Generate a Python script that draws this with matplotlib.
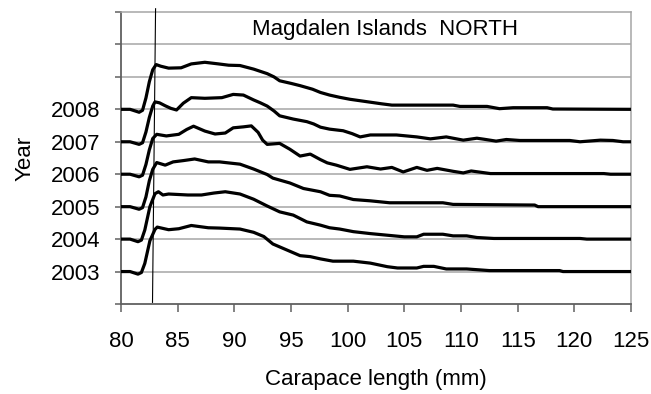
import numpy as np
import matplotlib
matplotlib.use('Agg')
import matplotlib.pyplot as plt

plt.rcParams['font.family'] = ['Liberation Sans', 'DejaVu Sans']

# year levels and the offset curve of each year
years = [2003, 2004, 2005, 2006, 2007, 2008]
ytick_labels = ['', '2003', '2004', '2005', '2006', '2007', '2008', '', '', '']

x2008 = [80, 80.8, 81.6, 81.9, 82.2, 82.5, 82.8, 83.1, 83.5, 84.2,
         85.3, 86.2, 87.4, 88.6, 89.5, 90.5, 91.7, 92.9, 93.5, 94.0,
         95.0, 95.8, 96.9, 97.6, 98.4, 99.3, 100.2, 101.2, 102.0, 103.0,
         103.9, 106.4, 109.3, 109.9, 111.7, 112.3, 113.4, 114.6, 117.6, 118.1, 125]
y2008 = [0, 0, -0.09, -0.03, 0.35, 0.85, 1.22, 1.38, 1.33, 1.27,
         1.28, 1.40, 1.45, 1.40, 1.36, 1.35, 1.24, 1.10, 1.0, 0.88,
         0.80, 0.73, 0.62, 0.52, 0.44, 0.37, 0.31, 0.26, 0.22, 0.17,
         0.13, 0.13, 0.13, 0.09, 0.09, 0.09, 0.02, 0.05, 0.05, 0.01, 0.0]

x2007 = [80, 80.8, 81.6, 81.9, 82.2, 82.5, 82.8, 83.0, 83.4, 83.9,
         84.4, 84.9, 85.5, 86.2, 87.4, 88.9, 89.9, 90.8, 91.7, 92.3,
         92.9, 93.5, 94.0, 95.2, 96.4, 97.0, 97.6, 98.4, 99.6, 100.4,
         101.1, 102.0, 104.3, 106.1, 107.3, 108.7, 110.2, 111.4, 112.0, 113.1,
         114.0, 115.2, 119.6, 120.5, 122.3, 123.4, 124.3, 125]
y2007 = [0, 0, -0.08, -0.03, 0.3, 0.75, 1.1, 1.23, 1.2, 1.11,
         1.03, 0.98, 1.19, 1.36, 1.34, 1.36, 1.46, 1.44, 1.29, 1.2,
         1.10, 0.95, 0.80, 0.70, 0.62, 0.55, 0.45, 0.39, 0.34, 0.25,
         0.15, 0.21, 0.21, 0.15, 0.09, 0.15, 0.05, 0.11, 0.08, 0.02,
         0.07, 0.04, 0.04, 0.0, 0.05, 0.04, 0.0, 0.0]

x2006 = [80, 80.8, 81.6, 81.9, 82.2, 82.5, 82.8, 83.15, 84.0, 85.1,
         85.8, 86.4, 87.4, 88.3, 89.2, 89.9, 90.8, 91.5, 92.1, 92.5,
         92.9, 94.0, 94.9, 95.8, 96.7, 97.6, 98.2, 99.0, 100.2, 101.7,
         102.9, 103.9, 104.9, 106.1, 107.0, 107.9, 109.3, 110.2, 110.9, 112.6,
         122.6, 123.2, 125]
y2006 = [0, 0, -0.08, -0.03, 0.3, 0.75, 1.1, 1.23, 1.18, 1.23,
         1.38, 1.48, 1.33, 1.24, 1.27, 1.43, 1.46, 1.49, 1.29, 1.05,
         0.92, 0.95, 0.77, 0.56, 0.62, 0.45, 0.35, 0.28, 0.15, 0.23,
         0.16, 0.21, 0.07, 0.21, 0.12, 0.18, 0.09, 0.04, 0.10, 0.02,
         0.02, 0.0, 0.0]

x2005 = [80, 80.8, 81.6, 81.9, 82.2, 82.5, 82.8, 83.15, 83.9, 84.6,
         85.5, 86.5, 87.7, 88.7, 89.2, 90.5, 91.7, 92.9, 93.4, 94.9,
         96.1, 97.6, 98.4, 99.3, 100.5, 102.0, 103.7, 108.4, 109.3, 116.5,
         116.8, 125]
y2005 = [0, 0, -0.08, -0.03, 0.3, 0.8, 1.15, 1.36, 1.28, 1.38,
         1.42, 1.47, 1.38, 1.38, 1.36, 1.31, 1.16, 0.99, 0.88, 0.73,
         0.56, 0.46, 0.35, 0.33, 0.22, 0.18, 0.12, 0.12, 0.07, 0.05,
         0.0, 0.0]

x2004 = [80, 80.8, 81.5, 81.8, 82.1, 82.55, 83.0, 83.3, 83.7, 84.2,
         85.9, 87.1, 88.2, 89.2, 90.5, 91.7, 92.9, 94.0, 95.2, 96.4,
         97.6, 98.4, 99.3, 100.5, 102.0, 103.5, 105.0, 106.1, 106.7, 108.4,
         109.3, 110.5, 111.4, 112.9, 120.5, 121.1, 125]
y2004 = [0, 0, -0.08, -0.03, 0.28, 1.0, 1.40, 1.46, 1.36, 1.39,
         1.36, 1.36, 1.42, 1.46, 1.39, 1.23, 1.02, 0.84, 0.74, 0.53,
         0.43, 0.35, 0.31, 0.23, 0.17, 0.12, 0.07, 0.07, 0.15, 0.15,
         0.10, 0.10, 0.05, 0.02, 0.02, 0.0, 0.0]

x2003 = [80, 80.8, 81.5, 81.8, 82.1, 82.55, 83.0, 83.2, 84.2, 85.1,
         86.2, 87.7, 88.7, 90.5, 91.7, 92.6, 93.4, 94.6, 95.8, 96.7,
         97.6, 98.7, 100.5, 102.0, 103.5, 104.4, 106.1, 106.7, 107.6, 108.7,
         110.5, 111.7, 112.5, 118.7, 119.0, 125]
y2003 = [0, 0, -0.08, -0.03, 0.25, 0.95, 1.30, 1.37, 1.29, 1.32,
         1.42, 1.35, 1.34, 1.31, 1.21, 1.08, 0.85, 0.67, 0.49, 0.46,
         0.39, 0.32, 0.32, 0.26, 0.15, 0.11, 0.11, 0.16, 0.16, 0.08,
         0.08, 0.05, 0.03, 0.03, 0.0, 0.0]

curves = {2003: (x2003, y2003), 2004: (x2004, y2004), 2005: (x2005, y2005),
          2006: (x2006, y2006), 2007: (x2007, y2007), 2008: (x2008, y2008)}

# reference line (minimum legal size)
line_x = [83.05, 82.78]
line_y = [2011.1, 2002.05]

fig = plt.figure(figsize=(6.51, 3.94), dpi=100)
ax = fig.add_axes([121/651, 90/394, 510/651, 292/394])

grid_c = '#a6a6a6'
for yr in range(2003, 2011):
    ax.axhline(yr, color=grid_c, lw=1.1, zorder=1)

for yr in years:
    xs, offs = curves[yr]
    ax.plot(xs, np.array(offs) + yr, color='black', lw=2.3,
            solid_joinstyle='round', solid_capstyle='butt', zorder=3)

ax.plot(line_x, line_y, color='black', lw=0.8, clip_on=False, zorder=4)

ax.set_xlim(80, 125)
ax.set_ylim(2002, 2011)
ax.set_xticks(np.arange(80, 126, 5))
ax.set_yticks(np.arange(2002, 2012))
ax.set_yticklabels(ytick_labels)

for s in ['top', 'right']:
    ax.spines[s].set_color(grid_c)
    ax.spines[s].set_linewidth(1.1)
for s in ['left', 'bottom']:
    ax.spines[s].set_color('#606060')
    ax.spines[s].set_linewidth(1.3)

ax.tick_params(axis='x', length=5.5, width=1.1, color='#606060',
               labelsize=16, pad=14)
ax.tick_params(axis='y', length=4, width=1.1, color='#606060',
               labelsize=16, pad=11)

ax.text(103.3, 2010.47, 'Magdalen Islands  NORTH', fontsize=16,
        ha='center', va='center')
fig.text(25/651, 1 - 158/394, 'Year', fontsize=16, rotation=90,
         ha='center', va='center')
fig.text(376/651, 1 - 380/394, 'Carapace length (mm)', fontsize=16,
         ha='center', va='center')

fig.savefig('out.png', dpi=100)
